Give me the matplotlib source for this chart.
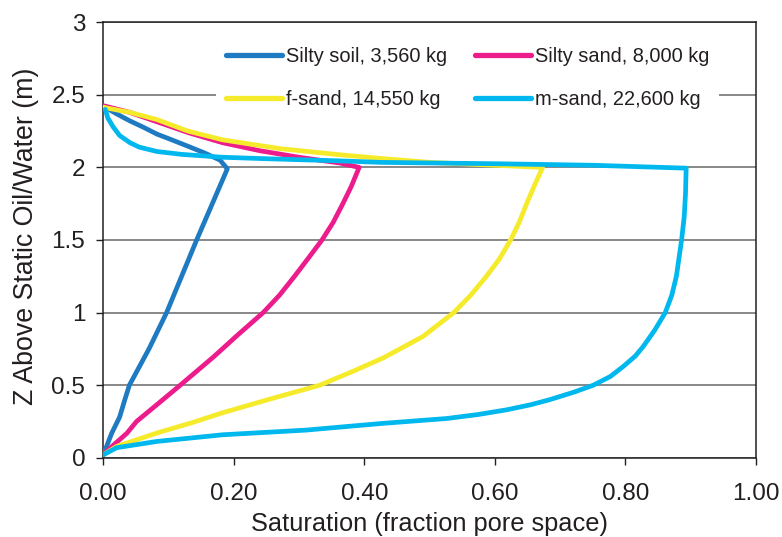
import matplotlib
matplotlib.use("Agg")
import matplotlib.pyplot as plt
from matplotlib.ticker import FixedLocator, FixedFormatter

plt.rcParams['font.family'] = ['Liberation Sans', 'DejaVu Sans']

# ---- data (saturation s, height z) ----
silty_soil_s = [0.0, 0.013, 0.025, 0.033, 0.040, 0.070, 0.097, 0.120, 0.143, 0.167, 0.190,
                0.179, 0.155, 0.133, 0.105, 0.082, 0.060, 0.041, 0.020, 0.005, 0.0]
silty_soil_z = [0.02, 0.17, 0.28, 0.40, 0.50, 0.75, 1.00, 1.25, 1.50, 1.75, 1.99,
                2.05, 2.10, 2.14, 2.19, 2.23, 2.28, 2.32, 2.37, 2.41, 2.42]

silty_sand_s = [0.0, 0.013, 0.036, 0.051, 0.086, 0.118, 0.169, 0.207, 0.245, 0.270, 0.293, 0.315,
                0.335, 0.352, 0.367, 0.380, 0.392,
                0.363, 0.30, 0.24, 0.183, 0.13, 0.082, 0.04, 0.005, 0.0]
silty_sand_z = [0.02, 0.077, 0.168, 0.25, 0.38, 0.50, 0.695, 0.85, 1.00, 1.12, 1.25, 1.38,
                1.50, 1.62, 1.75, 1.87, 2.00,
                2.03, 2.07, 2.115, 2.17, 2.24, 2.315, 2.38, 2.42, 2.425]

f_sand_s = [0.0, 0.0205, 0.082, 0.135, 0.183, 0.26, 0.332, 0.385, 0.43, 0.49, 0.537, 0.563, 0.587,
            0.607, 0.624, 0.637, 0.649, 0.661, 0.673,
            0.60, 0.50, 0.43, 0.363, 0.27, 0.183, 0.13, 0.082, 0.04, 0.005, 0.0]
f_sand_z = [0.02, 0.078, 0.17, 0.24, 0.31, 0.41, 0.50, 0.60, 0.69, 0.836, 1.00, 1.12, 1.25,
            1.37, 1.50, 1.62, 1.755, 1.88, 2.00,
            2.015, 2.035, 2.06, 2.087, 2.13, 2.19, 2.25, 2.33, 2.38, 2.41, 2.415]

m_sand_s = [0.0, 0.0205, 0.082, 0.183, 0.31, 0.424, 0.526, 0.575, 0.618, 0.655, 0.684, 0.72, 0.751,
            0.777, 0.797, 0.815, 0.827, 0.845, 0.861, 0.871, 0.878, 0.886, 0.890, 0.892, 0.893,
            0.75, 0.608, 0.424, 0.363, 0.25, 0.183, 0.12, 0.082, 0.055, 0.041, 0.025, 0.015, 0.007, 0.003]
m_sand_z = [0.02, 0.069, 0.112, 0.158, 0.19, 0.235, 0.27, 0.298, 0.33, 0.365, 0.40, 0.45, 0.50,
            0.56, 0.63, 0.70, 0.765, 0.88, 1.00, 1.12, 1.25, 1.50, 1.66, 1.82, 1.995,
            2.015, 2.025, 2.035, 2.045, 2.06, 2.07, 2.09, 2.11, 2.14, 2.17, 2.22, 2.28, 2.34, 2.40]

series_labels = ["Silty soil, 3,560 kg", "Silty sand, 8,000 kg", "f-sand, 14,550 kg", "m-sand, 22,600 kg"]
series_colors = ["#1F7BC1", "#EC1C8C", "#F6EB2B", "#00B8EE"]

x_ticks = [0.0, 0.2, 0.4, 0.6, 0.8, 1.0]
x_tick_labels = ["0.00", "0.20", "0.40", "0.60", "0.80", "1.00"]
y_ticks = [0, 0.5, 1, 1.5, 2, 2.5, 3]
y_tick_labels = ["0", "0.5", "1", "1.5", "2", "2.5", "3"]

# ---- figure ----
fig = plt.figure(figsize=(7.82, 5.37), dpi=100)
ax = fig.add_axes([103.3 / 782, (537 - 457.7) / 537, (756 - 103.3) / 782, (457.7 - 22.3) / 537])

data = [(silty_soil_s, silty_soil_z), (silty_sand_s, silty_sand_z),
        (f_sand_s, f_sand_z), (m_sand_s, m_sand_z)]
handles = []
for (s, z), lab, col in zip(data, series_labels, series_colors):
    h, = ax.plot(s, z, color=col, lw=3.4, label=lab, solid_joinstyle='round',
                 solid_capstyle='round', zorder=3)
    handles.append(h)

ax.set_xlim(0, 1.0)
ax.set_ylim(0, 3)
ax.xaxis.set_major_locator(FixedLocator(x_ticks))
ax.xaxis.set_major_formatter(FixedFormatter(x_tick_labels))
ax.yaxis.set_major_locator(FixedLocator(y_ticks))
ax.yaxis.set_major_formatter(FixedFormatter(y_tick_labels))

text_col = "#231F20"
ax.tick_params(axis='x', direction='out', length=5, width=1.0, pad=13,
               labelsize=17.5, colors=text_col)
ax.tick_params(axis='y', direction='out', length=5, width=1.0, pad=8,
               labelsize=17.5, colors=text_col)
for sp in ax.spines.values():
    sp.set_color("#231F20")
    sp.set_linewidth(1.1)

ax.yaxis.grid(True, color="#7F7F7F", lw=1.3)
ax.set_axisbelow(True)

ax.set_xlabel("Saturation (fraction pore space)", fontsize=18.3, color=text_col, labelpad=5)
ax.set_ylabel("Z Above Static Oil/Water (m)", fontsize=19.3, color=text_col)
ax.yaxis.set_label_coords(-0.099, 0.509)

# legend filled row by row: (soil, sand) / (f-sand, m-sand)
order = [0, 2, 1, 3]
leg = ax.legend([handles[i] for i in order], [series_labels[i] for i in order],
                ncol=2, loc='upper left', bbox_to_anchor=(0.172, 0.967),
                fontsize=14.4, frameon=True, fancybox=False, framealpha=1,
                facecolor='white', edgecolor='none', handlelength=2.8,
                handletextpad=0.2, columnspacing=1.42, labelspacing=1.2,
                borderpad=0.5, borderaxespad=0)
for line in leg.get_lines():
    line.set_linewidth(3.8)
    line.set_solid_capstyle('round')
for t in leg.get_texts():
    t.set_color(text_col)
leg.set_zorder(5)

fig.savefig("out.png", dpi=100)
